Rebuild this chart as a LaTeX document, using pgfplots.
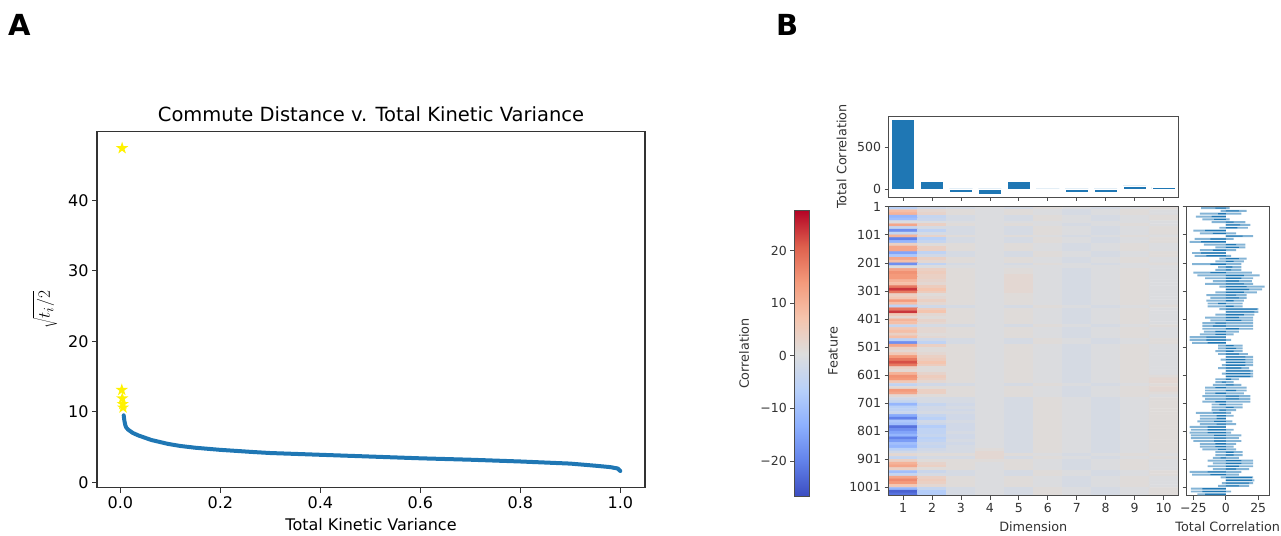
\documentclass[border=0pt]{standalone}
\usepackage{fontspec}
\setmainfont{DejaVu Sans}
\usepackage{pgfplots}
\pgfplotsset{compat=1.18}
\usepackage{pgfplotstable}
\usetikzlibrary{calc}
\definecolor{mplblue}{HTML}{1F77B4}
\definecolor{lightbar}{RGB}{132,180,214}
\pgfplotsset{colormap={coolwarm}{rgb255=(59,76,192) rgb255=(98,130,234) rgb255=(141,176,254) rgb255=(184,208,249) rgb255=(221,221,221) rgb255=(245,196,173) rgb255=(244,154,123) rgb255=(222,96,77) rgb255=(180,4,38)}}
\pgfdeclareplotmark{fstar}{%
 \pgfpathmoveto{\pgfpointpolar{90}{\pgfplotmarksize}}%
 \pgfpathlineto{\pgfpointpolar{126}{0.382\pgfplotmarksize}}%
 \pgfpathlineto{\pgfpointpolar{162}{\pgfplotmarksize}}%
 \pgfpathlineto{\pgfpointpolar{198}{0.382\pgfplotmarksize}}%
 \pgfpathlineto{\pgfpointpolar{234}{\pgfplotmarksize}}%
 \pgfpathlineto{\pgfpointpolar{270}{0.382\pgfplotmarksize}}%
 \pgfpathlineto{\pgfpointpolar{306}{\pgfplotmarksize}}%
 \pgfpathlineto{\pgfpointpolar{342}{0.382\pgfplotmarksize}}%
 \pgfpathlineto{\pgfpointpolar{18}{\pgfplotmarksize}}%
 \pgfpathlineto{\pgfpointpolar{54}{0.382\pgfplotmarksize}}%
 \pgfpathclose\pgfusepathqfill}

\pgfplotstableread{
x y
0.0068 9.5
0.008 8.8
0.010 8.1
0.012 7.75
0.016 7.45
0.025 7.0
0.036 6.65
0.05 6.3
0.062 6.0
0.08 5.7
0.095 5.45
0.12 5.15
0.15 4.9
0.2 4.6
0.264 4.3
0.3 4.15
0.4 3.9
0.5 3.65
0.6 3.4
0.7 3.2
0.8 2.95
0.9 2.65
0.95 2.35
0.98 2.15
0.995 1.95
1.0 1.6
}\curve

\pgfplotstableread{
x y
0.0036 47.4
0.0030 13.1
0.0040 11.9
0.0050 11.1
0.0055 10.6
}\stars

\pgfplotstableread{
dim val
1 831
2 92
3 -40
4 -64
5 92
6 0
7 -40
8 -40
9 36
10 22
}\dimbars

\pgfplotstableread[row sep=\\]{
x y c\\
1 5.5 -6\\ 2 5.5 -2\\ 3 5.5 -1\\ 4 5.5 0\\ 5 5.5 -1\\ 6 5.5 1\\ 7 5.5 0\\ 8 5.5 -1\\ 9 5.5 0\\ 10 5.5 1\\
1 15.5 8\\ 2 15.5 2\\ 3 15.5 1\\ 4 15.5 0\\ 5 15.5 1\\ 6 15.5 0\\ 7 15.5 -1\\ 8 15.5 0\\ 9 15.5 1\\ 10 15.5 0\\
1 25.5 10\\ 2 25.5 3\\ 3 25.5 1\\ 4 25.5 0\\ 5 25.5 1\\ 6 25.5 0\\ 7 25.5 -1\\ 8 25.5 0\\ 9 25.5 1\\ 10 25.5 0\\
1 35.5 -12\\ 2 35.5 -4\\ 3 35.5 -1\\ 4 35.5 0\\ 5 35.5 -1\\ 6 35.5 1\\ 7 35.5 0\\ 8 35.5 -1\\ 9 35.5 0\\ 10 35.5 1\\
1 45.5 -10\\ 2 45.5 -3\\ 3 45.5 -1\\ 4 45.5 0\\ 5 45.5 -1\\ 6 45.5 1\\ 7 45.5 0\\ 8 45.5 -1\\ 9 45.5 0\\ 10 45.5 1\\
1 55.5 0\\ 2 55.5 0\\ 3 55.5 0\\ 4 55.5 0\\ 5 55.5 0\\ 6 55.5 0\\ 7 55.5 0\\ 8 55.5 0\\ 9 55.5 0\\ 10 55.5 0\\
1 65.5 12\\ 2 65.5 4\\ 3 65.5 1\\ 4 65.5 0\\ 5 65.5 1\\ 6 65.5 0\\ 7 65.5 -1\\ 8 65.5 0\\ 9 65.5 1\\ 10 65.5 0\\
1 75.5 -4\\ 2 75.5 -1\\ 3 75.5 -1\\ 4 75.5 0\\ 5 75.5 -1\\ 6 75.5 1\\ 7 75.5 0\\ 8 75.5 -1\\ 9 75.5 0\\ 10 75.5 1\\
1 85.5 -18\\ 2 85.5 -5\\ 3 85.5 -1\\ 4 85.5 0\\ 5 85.5 -1\\ 6 85.5 1\\ 7 85.5 0\\ 8 85.5 -1\\ 9 85.5 0\\ 10 85.5 1\\
1 95.5 -4\\ 2 95.5 -1\\ 3 95.5 -1\\ 4 95.5 0\\ 5 95.5 -1\\ 6 95.5 1\\ 7 95.5 0\\ 8 95.5 -1\\ 9 95.5 0\\ 10 95.5 1\\
1 105.5 10\\ 2 105.5 3\\ 3 105.5 1\\ 4 105.5 0\\ 5 105.5 1\\ 6 105.5 0\\ 7 105.5 -1\\ 8 105.5 0\\ 9 105.5 1\\ 10 105.5 0\\
1 115.5 -20\\ 2 115.5 -6\\ 3 115.5 -1\\ 4 115.5 0\\ 5 115.5 -1\\ 6 115.5 1\\ 7 115.5 0\\ 8 115.5 -1\\ 9 115.5 0\\ 10 115.5 1\\
1 125.5 -12\\ 2 125.5 -4\\ 3 125.5 -1\\ 4 125.5 0\\ 5 125.5 -1\\ 6 125.5 1\\ 7 125.5 0\\ 8 125.5 -1\\ 9 125.5 0\\ 10 125.5 1\\
1 135.5 4\\ 2 135.5 1\\ 3 135.5 1\\ 4 135.5 0\\ 5 135.5 1\\ 6 135.5 0\\ 7 135.5 -1\\ 8 135.5 0\\ 9 135.5 1\\ 10 135.5 0\\
1 145.5 12\\ 2 145.5 4\\ 3 145.5 1\\ 4 145.5 0\\ 5 145.5 1\\ 6 145.5 0\\ 7 145.5 -1\\ 8 145.5 0\\ 9 145.5 1\\ 10 145.5 0\\
1 155.5 12\\ 2 155.5 4\\ 3 155.5 1\\ 4 155.5 0\\ 5 155.5 1\\ 6 155.5 0\\ 7 155.5 -1\\ 8 155.5 0\\ 9 155.5 1\\ 10 155.5 0\\
1 165.5 -15\\ 2 165.5 -5\\ 3 165.5 -1\\ 4 165.5 0\\ 5 165.5 -1\\ 6 165.5 1\\ 7 165.5 0\\ 8 165.5 -1\\ 9 165.5 0\\ 10 165.5 1\\
1 175.5 -8\\ 2 175.5 -2\\ 3 175.5 -1\\ 4 175.5 0\\ 5 175.5 -1\\ 6 175.5 1\\ 7 175.5 0\\ 8 175.5 -1\\ 9 175.5 0\\ 10 175.5 1\\
1 185.5 12\\ 2 185.5 4\\ 3 185.5 1\\ 4 185.5 0\\ 5 185.5 1\\ 6 185.5 0\\ 7 185.5 -1\\ 8 185.5 0\\ 9 185.5 1\\ 10 185.5 0\\
1 195.5 8\\ 2 195.5 2\\ 3 195.5 1\\ 4 195.5 0\\ 5 195.5 1\\ 6 195.5 0\\ 7 195.5 -1\\ 8 195.5 0\\ 9 195.5 1\\ 10 195.5 0\\
1 205.5 -18\\ 2 205.5 -5\\ 3 205.5 -1\\ 4 205.5 0\\ 5 205.5 -1\\ 6 205.5 1\\ 7 205.5 0\\ 8 205.5 -1\\ 9 205.5 0\\ 10 205.5 1\\
1 215.5 0\\ 2 215.5 0\\ 3 215.5 0\\ 4 215.5 0\\ 5 215.5 0\\ 6 215.5 0\\ 7 215.5 0\\ 8 215.5 0\\ 9 215.5 0\\ 10 215.5 0\\
1 225.5 12\\ 2 225.5 4\\ 3 225.5 1\\ 4 225.5 0\\ 5 225.5 1\\ 6 225.5 0\\ 7 225.5 -1\\ 8 225.5 0\\ 9 225.5 1\\ 10 225.5 0\\
1 235.5 15\\ 2 235.5 5\\ 3 235.5 1\\ 4 235.5 0\\ 5 235.5 1\\ 6 235.5 0\\ 7 235.5 -1\\ 8 235.5 0\\ 9 235.5 1\\ 10 235.5 0\\
1 245.5 14\\ 2 245.5 4\\ 3 245.5 1\\ 4 245.5 0\\ 5 245.5 2\\ 6 245.5 0\\ 7 245.5 -1\\ 8 245.5 0\\ 9 245.5 1\\ 10 245.5 0\\
1 255.5 14\\ 2 255.5 4\\ 3 255.5 1\\ 4 255.5 0\\ 5 255.5 2\\ 6 255.5 0\\ 7 255.5 -1\\ 8 255.5 0\\ 9 255.5 1\\ 10 255.5 0\\
1 265.5 10\\ 2 265.5 3\\ 3 265.5 1\\ 4 265.5 0\\ 5 265.5 2\\ 6 265.5 0\\ 7 265.5 -1\\ 8 265.5 0\\ 9 265.5 1\\ 10 265.5 0\\
1 275.5 8\\ 2 275.5 2\\ 3 275.5 1\\ 4 275.5 0\\ 5 275.5 2\\ 6 275.5 0\\ 7 275.5 -1\\ 8 275.5 0\\ 9 275.5 1\\ 10 275.5 0\\
1 285.5 18\\ 2 285.5 5\\ 3 285.5 1\\ 4 285.5 0\\ 5 285.5 2\\ 6 285.5 0\\ 7 285.5 -1\\ 8 285.5 0\\ 9 285.5 1\\ 10 285.5 0\\
1 295.5 24\\ 2 295.5 7\\ 3 295.5 1\\ 4 295.5 0\\ 5 295.5 2\\ 6 295.5 0\\ 7 295.5 -1\\ 8 295.5 0\\ 9 295.5 1\\ 10 295.5 0\\
1 305.5 18\\ 2 305.5 5\\ 3 305.5 1\\ 4 305.5 0\\ 5 305.5 2\\ 6 305.5 0\\ 7 305.5 -1\\ 8 305.5 0\\ 9 305.5 1\\ 10 305.5 0\\
1 315.5 4\\ 2 315.5 1\\ 3 315.5 1\\ 4 315.5 0\\ 5 315.5 1\\ 6 315.5 0\\ 7 315.5 -1\\ 8 315.5 0\\ 9 315.5 1\\ 10 315.5 0\\
1 325.5 6\\ 2 325.5 2\\ 3 325.5 1\\ 4 325.5 0\\ 5 325.5 1\\ 6 325.5 0\\ 7 325.5 -1\\ 8 325.5 0\\ 9 325.5 1\\ 10 325.5 0\\
1 335.5 14\\ 2 335.5 4\\ 3 335.5 1\\ 4 335.5 0\\ 5 335.5 1\\ 6 335.5 0\\ 7 335.5 -1\\ 8 335.5 0\\ 9 335.5 1\\ 10 335.5 0\\
1 345.5 8\\ 2 345.5 2\\ 3 345.5 1\\ 4 345.5 0\\ 5 345.5 1\\ 6 345.5 0\\ 7 345.5 -1\\ 8 345.5 0\\ 9 345.5 1\\ 10 345.5 0\\
1 355.5 -5\\ 2 355.5 -2\\ 3 355.5 -1\\ 4 355.5 0\\ 5 355.5 -1\\ 6 355.5 1\\ 7 355.5 0\\ 8 355.5 -1\\ 9 355.5 0\\ 10 355.5 1\\
1 365.5 18\\ 2 365.5 5\\ 3 365.5 1\\ 4 365.5 0\\ 5 365.5 1\\ 6 365.5 0\\ 7 365.5 -1\\ 8 365.5 0\\ 9 365.5 1\\ 10 365.5 0\\
1 375.5 24\\ 2 375.5 7\\ 3 375.5 1\\ 4 375.5 0\\ 5 375.5 1\\ 6 375.5 0\\ 7 375.5 -1\\ 8 375.5 0\\ 9 375.5 1\\ 10 375.5 0\\
1 385.5 6\\ 2 385.5 2\\ 3 385.5 1\\ 4 385.5 0\\ 5 385.5 1\\ 6 385.5 0\\ 7 385.5 -1\\ 8 385.5 0\\ 9 385.5 1\\ 10 385.5 0\\
1 395.5 2\\ 2 395.5 1\\ 3 395.5 1\\ 4 395.5 0\\ 5 395.5 1\\ 6 395.5 0\\ 7 395.5 -1\\ 8 395.5 0\\ 9 395.5 1\\ 10 395.5 0\\
1 405.5 10\\ 2 405.5 3\\ 3 405.5 1\\ 4 405.5 0\\ 5 405.5 1\\ 6 405.5 0\\ 7 405.5 -1\\ 8 405.5 0\\ 9 405.5 1\\ 10 405.5 0\\
1 415.5 8\\ 2 415.5 2\\ 3 415.5 1\\ 4 415.5 0\\ 5 415.5 1\\ 6 415.5 0\\ 7 415.5 -1\\ 8 415.5 0\\ 9 415.5 1\\ 10 415.5 0\\
1 425.5 -4\\ 2 425.5 -1\\ 3 425.5 -1\\ 4 425.5 0\\ 5 425.5 -1\\ 6 425.5 1\\ 7 425.5 0\\ 8 425.5 -1\\ 9 425.5 0\\ 10 425.5 1\\
1 435.5 6\\ 2 435.5 2\\ 3 435.5 1\\ 4 435.5 0\\ 5 435.5 1\\ 6 435.5 0\\ 7 435.5 -1\\ 8 435.5 0\\ 9 435.5 1\\ 10 435.5 0\\
1 445.5 8\\ 2 445.5 2\\ 3 445.5 1\\ 4 445.5 0\\ 5 445.5 1\\ 6 445.5 0\\ 7 445.5 -1\\ 8 445.5 0\\ 9 445.5 1\\ 10 445.5 0\\
1 455.5 4\\ 2 455.5 1\\ 3 455.5 1\\ 4 455.5 0\\ 5 455.5 1\\ 6 455.5 0\\ 7 455.5 -1\\ 8 455.5 0\\ 9 455.5 1\\ 10 455.5 0\\
1 465.5 8\\ 2 465.5 2\\ 3 465.5 1\\ 4 465.5 0\\ 5 465.5 1\\ 6 465.5 0\\ 7 465.5 -1\\ 8 465.5 0\\ 9 465.5 1\\ 10 465.5 0\\
1 475.5 -6\\ 2 475.5 -2\\ 3 475.5 -1\\ 4 475.5 0\\ 5 475.5 -1\\ 6 475.5 1\\ 7 475.5 0\\ 8 475.5 -1\\ 9 475.5 0\\ 10 475.5 1\\
1 485.5 -18\\ 2 485.5 -5\\ 3 485.5 -1\\ 4 485.5 0\\ 5 485.5 -1\\ 6 485.5 1\\ 7 485.5 0\\ 8 485.5 -1\\ 9 485.5 0\\ 10 485.5 1\\
1 495.5 12\\ 2 495.5 4\\ 3 495.5 1\\ 4 495.5 0\\ 5 495.5 1\\ 6 495.5 0\\ 7 495.5 -1\\ 8 495.5 0\\ 9 495.5 1\\ 10 495.5 0\\
1 505.5 4\\ 2 505.5 1\\ 3 505.5 1\\ 4 505.5 0\\ 5 505.5 1\\ 6 505.5 0\\ 7 505.5 -1\\ 8 505.5 0\\ 9 505.5 1\\ 10 505.5 0\\
1 515.5 2\\ 2 515.5 1\\ 3 515.5 1\\ 4 515.5 0\\ 5 515.5 1\\ 6 515.5 0\\ 7 515.5 -1\\ 8 515.5 0\\ 9 515.5 1\\ 10 515.5 0\\
1 525.5 6\\ 2 525.5 2\\ 3 525.5 1\\ 4 525.5 0\\ 5 525.5 1\\ 6 525.5 0\\ 7 525.5 -1\\ 8 525.5 0\\ 9 525.5 1\\ 10 525.5 0\\
1 535.5 14\\ 2 535.5 4\\ 3 535.5 1\\ 4 535.5 0\\ 5 535.5 1\\ 6 535.5 0\\ 7 535.5 -1\\ 8 535.5 0\\ 9 535.5 1\\ 10 535.5 0\\
1 545.5 18\\ 2 545.5 5\\ 3 545.5 1\\ 4 545.5 0\\ 5 545.5 1\\ 6 545.5 0\\ 7 545.5 -1\\ 8 545.5 0\\ 9 545.5 1\\ 10 545.5 0\\
1 555.5 22\\ 2 555.5 7\\ 3 555.5 1\\ 4 555.5 0\\ 5 555.5 1\\ 6 555.5 0\\ 7 555.5 -1\\ 8 555.5 0\\ 9 555.5 1\\ 10 555.5 0\\
1 565.5 18\\ 2 565.5 5\\ 3 565.5 1\\ 4 565.5 0\\ 5 565.5 1\\ 6 565.5 0\\ 7 565.5 -1\\ 8 565.5 0\\ 9 565.5 1\\ 10 565.5 0\\
1 575.5 4\\ 2 575.5 1\\ 3 575.5 1\\ 4 575.5 0\\ 5 575.5 1\\ 6 575.5 0\\ 7 575.5 -1\\ 8 575.5 0\\ 9 575.5 1\\ 10 575.5 0\\
1 585.5 2\\ 2 585.5 1\\ 3 585.5 1\\ 4 585.5 0\\ 5 585.5 1\\ 6 585.5 0\\ 7 585.5 -1\\ 8 585.5 0\\ 9 585.5 1\\ 10 585.5 0\\
1 595.5 10\\ 2 595.5 3\\ 3 595.5 1\\ 4 595.5 0\\ 5 595.5 1\\ 6 595.5 0\\ 7 595.5 -1\\ 8 595.5 0\\ 9 595.5 1\\ 10 595.5 0\\
1 605.5 15\\ 2 605.5 5\\ 3 605.5 1\\ 4 605.5 0\\ 5 605.5 1\\ 6 605.5 0\\ 7 605.5 -1\\ 8 605.5 0\\ 9 605.5 1\\ 10 605.5 1\\
1 615.5 14\\ 2 615.5 4\\ 3 615.5 1\\ 4 615.5 0\\ 5 615.5 1\\ 6 615.5 0\\ 7 615.5 -1\\ 8 615.5 0\\ 9 615.5 1\\ 10 615.5 2\\
1 625.5 6\\ 2 625.5 2\\ 3 625.5 1\\ 4 625.5 0\\ 5 625.5 1\\ 6 625.5 0\\ 7 625.5 -1\\ 8 625.5 0\\ 9 625.5 1\\ 10 625.5 2\\
1 635.5 -5\\ 2 635.5 -2\\ 3 635.5 -1\\ 4 635.5 0\\ 5 635.5 -1\\ 6 635.5 1\\ 7 635.5 0\\ 8 635.5 -1\\ 9 635.5 0\\ 10 635.5 1\\
1 645.5 2\\ 2 645.5 1\\ 3 645.5 1\\ 4 645.5 0\\ 5 645.5 1\\ 6 645.5 0\\ 7 645.5 -1\\ 8 645.5 0\\ 9 645.5 1\\ 10 645.5 2\\
1 655.5 14\\ 2 655.5 4\\ 3 655.5 1\\ 4 655.5 0\\ 5 655.5 1\\ 6 655.5 0\\ 7 655.5 -1\\ 8 655.5 0\\ 9 655.5 1\\ 10 655.5 2\\
1 665.5 12\\ 2 665.5 4\\ 3 665.5 1\\ 4 665.5 0\\ 5 665.5 1\\ 6 665.5 0\\ 7 665.5 -1\\ 8 665.5 0\\ 9 665.5 1\\ 10 665.5 1\\
1 675.5 2\\ 2 675.5 1\\ 3 675.5 1\\ 4 675.5 0\\ 5 675.5 1\\ 6 675.5 0\\ 7 675.5 -1\\ 8 675.5 0\\ 9 675.5 1\\ 10 675.5 0\\
1 685.5 -2\\ 2 685.5 -1\\ 3 685.5 -1\\ 4 685.5 0\\ 5 685.5 -1\\ 6 685.5 1\\ 7 685.5 0\\ 8 685.5 -1\\ 9 685.5 0\\ 10 685.5 1\\
1 695.5 -4\\ 2 695.5 -1\\ 3 695.5 -1\\ 4 695.5 0\\ 5 695.5 -1\\ 6 695.5 1\\ 7 695.5 0\\ 8 695.5 -1\\ 9 695.5 0\\ 10 695.5 1\\
1 705.5 -12\\ 2 705.5 -4\\ 3 705.5 -2\\ 4 705.5 0\\ 5 705.5 -1\\ 6 705.5 1\\ 7 705.5 0\\ 8 705.5 -1\\ 9 705.5 0\\ 10 705.5 1\\
1 715.5 -6\\ 2 715.5 -2\\ 3 715.5 -1\\ 4 715.5 0\\ 5 715.5 -1\\ 6 715.5 1\\ 7 715.5 0\\ 8 715.5 -1\\ 9 715.5 0\\ 10 715.5 1\\
1 725.5 -5\\ 2 725.5 -2\\ 3 725.5 -2\\ 4 725.5 0\\ 5 725.5 -1\\ 6 725.5 1\\ 7 725.5 0\\ 8 725.5 -1\\ 9 725.5 0\\ 10 725.5 1\\
1 735.5 -3\\ 2 735.5 -1\\ 3 735.5 -1\\ 4 735.5 0\\ 5 735.5 -1\\ 6 735.5 1\\ 7 735.5 0\\ 8 735.5 -1\\ 9 735.5 0\\ 10 735.5 1\\
1 745.5 -14\\ 2 745.5 -4\\ 3 745.5 -2\\ 4 745.5 0\\ 5 745.5 -1\\ 6 745.5 1\\ 7 745.5 0\\ 8 745.5 -1\\ 9 745.5 0\\ 10 745.5 1\\
1 755.5 -20\\ 2 755.5 -6\\ 3 755.5 -2\\ 4 755.5 0\\ 5 755.5 -1\\ 6 755.5 1\\ 7 755.5 0\\ 8 755.5 -1\\ 9 755.5 0\\ 10 755.5 1\\
1 765.5 -8\\ 2 765.5 -2\\ 3 765.5 -1\\ 4 765.5 0\\ 5 765.5 -1\\ 6 765.5 1\\ 7 765.5 0\\ 8 765.5 -1\\ 9 765.5 0\\ 10 765.5 1\\
1 775.5 -10\\ 2 775.5 -3\\ 3 775.5 -2\\ 4 775.5 0\\ 5 775.5 -1\\ 6 775.5 1\\ 7 775.5 0\\ 8 775.5 -1\\ 9 775.5 0\\ 10 775.5 1\\
1 785.5 -22\\ 2 785.5 -7\\ 3 785.5 -2\\ 4 785.5 0\\ 5 785.5 -1\\ 6 785.5 1\\ 7 785.5 0\\ 8 785.5 -1\\ 9 785.5 0\\ 10 785.5 1\\
1 795.5 -18\\ 2 795.5 -5\\ 3 795.5 -2\\ 4 795.5 0\\ 5 795.5 -1\\ 6 795.5 1\\ 7 795.5 0\\ 8 795.5 -1\\ 9 795.5 0\\ 10 795.5 1\\
1 805.5 -15\\ 2 805.5 -5\\ 3 805.5 -1\\ 4 805.5 0\\ 5 805.5 -1\\ 6 805.5 1\\ 7 805.5 0\\ 8 805.5 -1\\ 9 805.5 0\\ 10 805.5 1\\
1 815.5 -12\\ 2 815.5 -4\\ 3 815.5 -2\\ 4 815.5 0\\ 5 815.5 -1\\ 6 815.5 1\\ 7 815.5 0\\ 8 815.5 -1\\ 9 815.5 0\\ 10 815.5 1\\
1 825.5 -20\\ 2 825.5 -6\\ 3 825.5 -2\\ 4 825.5 0\\ 5 825.5 -1\\ 6 825.5 1\\ 7 825.5 0\\ 8 825.5 -1\\ 9 825.5 0\\ 10 825.5 1\\
1 835.5 -16\\ 2 835.5 -5\\ 3 835.5 -1\\ 4 835.5 0\\ 5 835.5 -1\\ 6 835.5 1\\ 7 835.5 0\\ 8 835.5 -1\\ 9 835.5 0\\ 10 835.5 1\\
1 845.5 -10\\ 2 845.5 -3\\ 3 845.5 -2\\ 4 845.5 0\\ 5 845.5 -1\\ 6 845.5 1\\ 7 845.5 0\\ 8 845.5 -1\\ 9 845.5 0\\ 10 845.5 1\\
1 855.5 -12\\ 2 855.5 -4\\ 3 855.5 -1\\ 4 855.5 0\\ 5 855.5 -1\\ 6 855.5 1\\ 7 855.5 0\\ 8 855.5 -1\\ 9 855.5 0\\ 10 855.5 1\\
1 865.5 -6\\ 2 865.5 -2\\ 3 865.5 -1\\ 4 865.5 1\\ 5 865.5 -1\\ 6 865.5 1\\ 7 865.5 0\\ 8 865.5 -1\\ 9 865.5 0\\ 10 865.5 1\\
1 875.5 -2\\ 2 875.5 -1\\ 3 875.5 -1\\ 4 875.5 2\\ 5 875.5 -1\\ 6 875.5 1\\ 7 875.5 0\\ 8 875.5 -1\\ 9 875.5 0\\ 10 875.5 1\\
1 885.5 2\\ 2 885.5 1\\ 3 885.5 1\\ 4 885.5 2\\ 5 885.5 1\\ 6 885.5 0\\ 7 885.5 -1\\ 8 885.5 0\\ 9 885.5 1\\ 10 885.5 0\\
1 895.5 -4\\ 2 895.5 -1\\ 3 895.5 -1\\ 4 895.5 2\\ 5 895.5 -1\\ 6 895.5 1\\ 7 895.5 0\\ 8 895.5 -1\\ 9 895.5 0\\ 10 895.5 1\\
1 905.5 4\\ 2 905.5 1\\ 3 905.5 1\\ 4 905.5 1\\ 5 905.5 1\\ 6 905.5 0\\ 7 905.5 -1\\ 8 905.5 0\\ 9 905.5 1\\ 10 905.5 0\\
1 915.5 10\\ 2 915.5 3\\ 3 915.5 1\\ 4 915.5 0\\ 5 915.5 1\\ 6 915.5 0\\ 7 915.5 -1\\ 8 915.5 0\\ 9 915.5 1\\ 10 915.5 0\\
1 925.5 12\\ 2 925.5 4\\ 3 925.5 1\\ 4 925.5 0\\ 5 925.5 1\\ 6 925.5 0\\ 7 925.5 -1\\ 8 925.5 0\\ 9 925.5 1\\ 10 925.5 0\\
1 935.5 4\\ 2 935.5 1\\ 3 935.5 1\\ 4 935.5 0\\ 5 935.5 1\\ 6 935.5 0\\ 7 935.5 -1\\ 8 935.5 0\\ 9 935.5 1\\ 10 935.5 0\\
1 945.5 -10\\ 2 945.5 -3\\ 3 945.5 -1\\ 4 945.5 0\\ 5 945.5 -1\\ 6 945.5 1\\ 7 945.5 0\\ 8 945.5 -1\\ 9 945.5 0\\ 10 945.5 1\\
1 955.5 -4\\ 2 955.5 -1\\ 3 955.5 -1\\ 4 955.5 0\\ 5 955.5 -1\\ 6 955.5 1\\ 7 955.5 0\\ 8 955.5 -1\\ 9 955.5 0\\ 10 955.5 1\\
1 965.5 12\\ 2 965.5 4\\ 3 965.5 1\\ 4 965.5 0\\ 5 965.5 1\\ 6 965.5 0\\ 7 965.5 -1\\ 8 965.5 0\\ 9 965.5 1\\ 10 965.5 0\\
1 975.5 16\\ 2 975.5 5\\ 3 975.5 1\\ 4 975.5 0\\ 5 975.5 1\\ 6 975.5 0\\ 7 975.5 -1\\ 8 975.5 0\\ 9 975.5 1\\ 10 975.5 0\\
1 985.5 14\\ 2 985.5 4\\ 3 985.5 1\\ 4 985.5 0\\ 5 985.5 1\\ 6 985.5 0\\ 7 985.5 -1\\ 8 985.5 0\\ 9 985.5 1\\ 10 985.5 0\\
1 995.5 6\\ 2 995.5 2\\ 3 995.5 1\\ 4 995.5 0\\ 5 995.5 1\\ 6 995.5 0\\ 7 995.5 -1\\ 8 995.5 0\\ 9 995.5 1\\ 10 995.5 0\\
1 1005.5 -12\\ 2 1005.5 -4\\ 3 1005.5 -1\\ 4 1005.5 0\\ 5 1005.5 -1\\ 6 1005.5 1\\ 7 1005.5 0\\ 8 1005.5 -1\\ 9 1005.5 0\\ 10 1005.5 1\\
1 1015.5 -24\\ 2 1015.5 -7\\ 3 1015.5 -1\\ 4 1015.5 0\\ 5 1015.5 -1\\ 6 1015.5 1\\ 7 1015.5 0\\ 8 1015.5 -1\\ 9 1015.5 0\\ 10 1015.5 1\\
1 1025.5 -22\\ 2 1025.5 -7\\ 3 1025.5 -1\\ 4 1025.5 0\\ 5 1025.5 -1\\ 6 1025.5 1\\ 7 1025.5 0\\ 8 1025.5 -1\\ 9 1025.5 0\\ 10 1025.5 1\\
}\heat

\pgfplotstableread{
y L D M
5.5 -19 -8 3
15.5 16 10 -4
25.5 -20 -6 12
35.5 -23 -11 0
45.5 -18 -9 3
55.5 15 6 -11
65.5 19 11 0
75.5 17 9 -5
85.5 -25 -16 0
95.5 -20 -10 8
105.5 21 13 0
115.5 -24 -12 6
125.5 -28 -19 0
135.5 15 8 -17
145.5 15 10 -8
155.5 -20 -10 8
165.5 -26 -19 0
175.5 -24 -15 4
185.5 16 10 -5
195.5 14 6 -8
205.5 -26 -12 12
215.5 12 5 -6
225.5 12 4 -8
235.5 -25 -12 20
245.5 26 14 -22
255.5 21 12 -16
265.5 20 10 -10
275.5 21 14 -16
285.5 30 16 -5
295.5 28 18 0
305.5 24 14 -8
315.5 16 8 -15
325.5 16 10 -12
335.5 14 6 -15
345.5 -14 -6 13
355.5 13 6 -14
365.5 25 24 -5
375.5 25 22 0
385.5 22 14 -8
395.5 21 10 -16
405.5 21 12 -12
415.5 -18 -8 21
425.5 -18 -10 21
435.5 21 10 -18
445.5 -17 -8 10
455.5 -20 -8 6
465.5 -28 -15 0
475.5 -28 -15 4
485.5 -26 -14 0
495.5 13 6 -6
505.5 13 8 -6
515.5 13 6 -8
525.5 17 10 -6
535.5 21 15 0
545.5 21 15 -4
555.5 21 15 0
565.5 21 15 -3
575.5 18 12 -6
585.5 21 19 0
595.5 21 19 -3
605.5 21 19 0
615.5 10 4 -8
625.5 -8 -3 6
635.5 12 6 -10
645.5 -16 -8 16
655.5 16 8 -16
665.5 -16 -8 14
675.5 19 10 -18
685.5 19 10 -16
695.5 -18 -8 19
705.5 -11 -5 13
715.5 13 6 -11
725.5 -11 -5 8
735.5 -23 -10 4
745.5 -20 -7 6
755.5 -20 -7 0
765.5 -22 -9 5
775.5 -20 -7 8
785.5 -28 -14 0
795.5 -27 -14 6
805.5 -28 -14 4
815.5 -27 -9 12
825.5 -27 -9 10
835.5 -25 -9 12
845.5 -20 -8 8
855.5 -20 -8 6
865.5 -18 -6 8
875.5 13 6 -8
885.5 13 6 -8
895.5 -10 -4 10
905.5 21 12 -14
915.5 21 12 -10
925.5 21 10 -14
935.5 18 8 -10
945.5 -28 -14 12
955.5 -26 -12 10
965.5 21 20 -4
975.5 22 20 0
985.5 21 18 -3
995.5 18 10 -6
1005.5 -27 -18 0
1015.5 -27 -18 4
1025.5 -22 -16 0
}\featbars

\pgfplotsset{
  Bstyle/.style={
    scale only axis, anchor=south west,
    axis line style={black!70, line width=0.9pt},
    tick style={black!70, line width=0.8pt},
    major tick length=4pt, tick align=outside, tick pos=left,
    tick label style={font=\fontsize{12.5}{14}\selectfont, text=black!80},
    label style={font=\fontsize{12.8}{14}\selectfont, text=black!80},
    /pgf/number format/assume math mode=true,
    /pgf/number format/1000 sep={},
  }
}

\begin{document}
\begin{tikzpicture}
\useasboundingbox (0pt,0pt) rectangle (1281pt,535pt);
\node[anchor=base west, inner sep=0pt, font=\fontsize{29}{30}\selectfont\bfseries] at (8pt,499pt) {A};
\node[anchor=base west, inner sep=0pt, font=\fontsize{29}{30}\selectfont\bfseries] at (776pt,499pt) {B};

% ---------------- Panel A
\begin{axis}[
  at={(97pt,47.3pt)}, anchor=south west, scale only axis, width=548pt, height=356.4pt,
  xmin=-0.0466, xmax=1.0494, ymin=-0.77, ymax=49.8,
  xtick={0,0.2,0.4,0.6,0.8,1}, ytick={0,10,20,30,40},
  xticklabel style={/pgf/number format/fixed, /pgf/number format/fixed zerofill, /pgf/number format/precision=1},
  /pgf/number format/assume math mode=true,
  tick align=outside, tick pos=left, major tick length=5pt,
  axis line style={black!80, line width=1.2pt}, tick style={black!80, line width=1pt},
  tick label style={font=\fontsize{16}{18}\selectfont},
  label style={font=\fontsize{16}{18}\selectfont},
  title={Commute Distance v. Total Kinetic Variance},
  title style={font=\fontsize{19.5}{22}\selectfont, at={(0.5,1)}, anchor=base, yshift=3.7pt},
  xlabel={Total Kinetic Variance},
  xlabel style={at={(0.5,0)}, anchor=base, yshift=-43pt},
  ylabel={\fontsize{19}{21}\selectfont$\sqrt{t_i/2}$},
  ylabel style={at={(0,0.5)}, anchor=center, yshift=52pt},
]
\addplot[mplblue, line width=4pt, line cap=round, line join=round, no marks] table[x=x,y=y]{\curve};
\addplot[only marks, mark=fstar, mark size=6.5pt, color=yellow, mark options={fill=yellow}] table[x=x,y=y]{\stars};
\end{axis}

% ---------------- Panel B: top bars
\begin{axis}[
  Bstyle, at={(888.6pt,338pt)}, width=289.4pt, height=81pt,
  xmin=0.5, xmax=10.5, ymin=-96, ymax=875,
  xtick={1,...,10}, xticklabels={}, ytick={0,500},
  ylabel={Total Correlation},
  ylabel style={at={(0,0.5)}, anchor=center, yshift=47pt},
]
\addplot[ybar, bar width=0.8, bar shift=0pt, fill=mplblue, draw=white, line width=0.6pt] table[x=dim,y=val]{\dimbars};
\end{axis}

% ---------------- Panel B: heatmap + colorbar
\begin{axis}[
  Bstyle, at={(888.6pt,39.3pt)}, width=289.4pt, height=289pt,
  xmin=0.5, xmax=10.5, ymin=0.5, ymax=1030.5, y dir=reverse,
  xtick={1,...,10}, ytick={1,101,...,1001},
  xlabel={Dimension}, ylabel={Feature},
  xlabel style={at={(0.5,0)}, anchor=center, yshift=-31.5pt},
  ylabel style={at={(0,0.5)}, anchor=center, yshift=55.6pt},
  axis on top,
  colormap name=coolwarm, point meta min=-26.8, point meta max=27.6,
  colorbar, colorbar shift/.style={},
  colorbar style={
    at={($(parent axis.north west)+(-79.6pt,-4pt)$)}, anchor=north east,
    scale only axis, width=14.7pt, height=286pt,
    xtick=\empty,
    ytick={-20,-10,0,10,20}, yticklabels={−20,−10,0,10,20},
    yticklabel pos=left, ytick pos=left,
    tick align=outside, major tick length=4pt,
    axis line style={black!70, line width=0.9pt},
    tick style={black!70, line width=0.8pt},
    tick label style={font=\fontsize{12.5}{14}\selectfont, text=black!80},
    ylabel={Correlation},
    ylabel style={font=\fontsize{12.8}{14}\selectfont, text=black!80, at={(0,0.5)}, anchor=center, yshift=50.3pt},
  },
]
\addplot[matrix plot*, mesh/cols=10, point meta=explicit] table[x=x,y=y,meta=c]{\heat};
\end{axis}

% ---------------- Panel B: right bars
\begin{axis}[
  Bstyle, at={(1186.5pt,39.3pt)}, width=82.5pt, height=289pt,
  xmin=-30.3, xmax=33.3, ymin=0.5, ymax=1030.5, y dir=reverse,
  xtick={-25,0,25}, xticklabels={−25,0,25},
  ytick={1,101,...,1001}, yticklabels={},
  xlabel={Total Correlation},
  xlabel style={at={(0.5,0)}, anchor=center, yshift=-31.5pt},
]
\addplot[xbar, bar shift=0pt, bar width=7, fill=lightbar, draw=none] table[x=L,y=y]{\featbars};
\addplot[xbar, bar shift=0pt, bar width=7, fill=lightbar, draw=none] table[x=M,y=y]{\featbars};
\addplot[xbar, bar shift=0pt, bar width=4, fill=mplblue, draw=none] table[x=D,y=y]{\featbars};
\end{axis}
\end{tikzpicture}
\end{document}
